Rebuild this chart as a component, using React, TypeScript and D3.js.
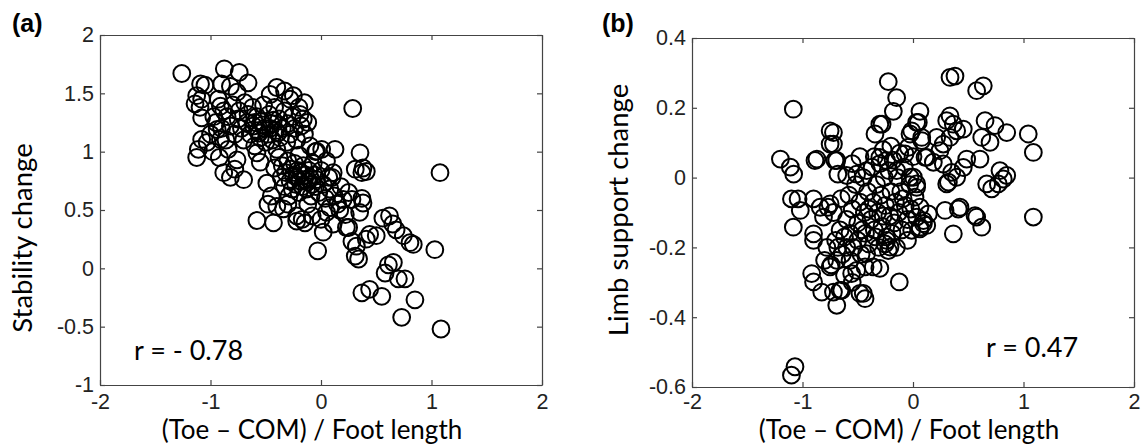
import React, { useEffect, useRef } from "react";
import * as d3 from "d3";

const xTicks = [-2, -1, 0, 1, 2];
const yTicksA = [-1, -0.5, 0, 0.5, 1, 1.5, 2];
const yTicksB = [-0.6, -0.4, -0.2, 0, 0.2, 0.4];

// (Toe - COM)/foot length vs stability change
const stabilityPts: [number, number][] = [
  [-1.26, 1.67], [-0.875, 1.71], [-0.74, 1.68], [-0.66, 1.59], [-1.09, 1.58], [-1.05, 1.57],
  [-1.125, 1.48], [-1.08, 1.45], [-1.14, 1.41], [-1.095, 1.38], [-1.08, 1.29], [-0.9, 1.58],
  [-0.82, 1.56], [-0.91, 1.39], [-0.76, 1.51], [-0.4, 1.55], [-0.33, 1.52], [-0.25, 1.48],
  [-0.46, 1.49], [-0.19, 1.32], [-0.16, 1.28], [-1.08, 1.105], [-1.03, 1.08], [-1.11, 1.02],
  [-1.125, 0.95], [-0.94, 1.19], [-0.9, 1.2], [-0.91, 1.105], [-0.78, 0.85], [-0.7, 0.76],
  [-0.76, 0.93], [-0.58, 0.99], [-0.55, 0.91], [-0.49, 0.73], [-0.4, 0.53], [-0.34, 0.51],
  [-0.58, 0.41], [-0.43, 0.39], [-0.22, 0.405], [-0.17, 0.42],
  // dense upper cluster
  [-0.85, 1.3], [-0.82, 1.22], [-0.8, 1.4], [-0.78, 1.15], [-0.75, 1.28], [-0.74, 1.35],
  [-0.72, 1.2], [-0.7, 1.1], [-0.69, 1.42], [-0.67, 1.25], [-0.66, 1.32], [-0.64, 1.15],
  [-0.62, 1.38], [-0.61, 1.22], [-0.6, 1.05], [-0.58, 1.3], [-0.57, 1.18], [-0.55, 1.12],
  [-0.54, 1.26], [-0.52, 1.4], [-0.51, 1.2], [-0.5, 1.08], [-0.48, 1.15], [-0.47, 1.32],
  [-0.45, 1.24], [-0.44, 1.1], [-0.42, 1.38], [-0.41, 1.18], [-0.4, 1.02], [-0.38, 1.28],
  [-0.37, 1.12], [-0.35, 1.2], [-0.33, 1.35], [-0.31, 1.08], [-0.3, 1.24], [-0.28, 1.15],
  [-0.26, 1.3], [-0.24, 1.2], [-0.22, 1.1], [-0.2, 1.38], [-0.18, 1.22], [-0.15, 1.15],
  [-0.12, 1.25], [-0.97, 1.3], [-0.95, 1.25], [-0.93, 1.45], [-0.88, 1.35], [-0.86, 1.1],
  [-0.84, 1.02], [-0.98, 1.0], [-1.0, 1.15], [-0.92, 0.95], [-0.88, 0.82], [-0.82, 0.78],
  [-0.28, 1.45], [-0.15, 1.42], [-0.1, 1.05], [-0.05, 1.0],
  [-0.6, 1.25], [-0.56, 1.16], [-0.53, 1.23], [-0.46, 1.2], [-0.43, 1.27], [-0.39, 1.16],
  // dense middle cluster
  [-0.38, 0.95], [-0.36, 0.78], [-0.35, 0.88], [-0.33, 0.7], [-0.32, 0.82], [-0.3, 0.92],
  [-0.29, 0.62], [-0.28, 0.75], [-0.27, 0.85], [-0.26, 0.68], [-0.25, 0.8], [-0.24, 0.9],
  [-0.23, 0.72], [-0.22, 0.78], [-0.21, 0.84], [-0.2, 0.65], [-0.19, 0.75], [-0.18, 0.82],
  [-0.17, 0.7], [-0.16, 0.88], [-0.15, 0.76], [-0.14, 0.8], [-0.13, 0.68], [-0.12, 0.74],
  [-0.11, 0.84], [-0.1, 0.78], [-0.09, 0.62], [-0.08, 0.72], [-0.07, 0.9], [-0.06, 0.8],
  [-0.05, 0.7], [-0.04, 0.76], [-0.02, 0.65], [0.0, 0.84], [0.02, 0.72], [0.04, 0.6],
  [0.05, 0.92], [0.07, 0.78], [0.08, 0.68], [-0.42, 0.86], [-0.45, 0.62], [-0.48, 0.55],
  [-0.3, 0.55], [-0.12, 0.55], [-0.2, 0.97],
  // right tail
  [0.287, 1.37], [1.077, 0.82], [0.353, 0.99], [0.31, 0.85], [0.38, 0.86], [0.37, 0.82],
  [0.41, 0.83], [0.127, 1.02], [0.006, 1.02], [-0.04, 1.005], [0.11, 0.82], [0.1, 0.78],
  [0.2, 0.59], [0.28, 0.59], [0.37, 0.6], [0.38, 0.56], [0.35, 0.48], [0.25, 0.35],
  [0.56, 0.43], [0.62, 0.45], [0.65, 0.38], [0.68, 0.33], [0.745, 0.28], [0.805, 0.22],
  [0.835, 0.205], [0.44, 0.29], [0.5, 0.28], [0.41, 0.25], [0.28, 0.23], [0.32, 0.19],
  [0.31, 0.105], [0.34, 0.08], [-0.03, 0.15], [1.03, 0.16], [0.61, 0.03], [0.655, 0.05],
  [0.58, -0.04], [0.7, -0.09], [0.76, -0.09], [0.37, -0.21], [0.44, -0.18], [0.55, -0.24],
  [0.85, -0.27], [0.73, -0.42], [1.086, -0.52], [-0.22, 0.45], [-0.145, 0.39], [0.02, 0.31],
  [0.11, 0.38], [0.23, 0.35], [0.17, 0.5], [0.22, 0.46], [0.12, 0.62], [0.15, 0.55],
  [0.05, 0.48], [0.0, 0.42], [-0.08, 0.45], [0.18, 0.7], [0.25, 0.65], [0.08, 0.52],
];

// (Toe - COM)/foot length vs limb support change
const limbPts: [number, number][] = [
  [-1.083, 0.196], [-0.224, 0.275], [-0.148, 0.229], [-0.178, 0.19], [-0.3, 0.153], [-0.344, 0.125],
  [0.063, 0.19], [0.048, 0.158], [-0.012, 0.134], [0.079, 0.106], [0.124, 0.058], [-0.75, 0.134],
  [-0.75, 0.096], [-0.706, 0.049], [-0.887, 0.049], [-0.87, 0.053], [-1.2, 0.053], [-1.11, 0.03],
  [-1.08, 0.01], [-1.1, -0.061], [-1.04, -0.061], [-1.02, -0.094], [-1.083, -0.142], [-0.9, -0.061],
  [-0.84, -0.085], [-0.81, -0.113], [-0.77, -0.085], [-0.75, -0.075], [-0.9, -0.18], [-0.9, -0.161],
  [-0.917, -0.275], [-0.9, -0.299], [-0.826, -0.328], [-0.72, -0.328], [-0.69, -0.366], [-0.645, -0.323],
  [-0.48, -0.332], [-0.434, -0.347], [-0.124, -0.299], [-1.068, -0.542], [-1.1, -0.566], [-0.8, -0.237],
  [-0.75, -0.256], [-0.69, -0.237], [-0.555, -0.275], [-0.434, -0.256], [-0.6, 0.006], [-0.51, 0.01],
  [-0.42, 0.02], [-0.3, 0.058], [-0.24, 0.049], [-0.148, 0.02], [-0.027, 0.001], [0.033, -0.018],
  [0.094, -0.123], [0.063, -0.142], [-0.012, -0.151], [-0.208, -0.199], [-0.238, -0.18],
  [0.38, 0.291], [0.335, 0.287], [0.636, 0.263], [0.576, 0.249], [0.033, 0.158], [0.079, 0.115],
  [0.335, 0.177], [0.305, 0.163], [0.365, 0.153], [0.335, 0.115], [0.395, 0.134], [0.455, 0.139],
  [0.652, 0.163], [0.742, 0.149], [0.622, 0.115], [0.697, 0.101], [0.848, 0.129], [1.043, 0.125],
  [1.089, 0.072], [0.214, 0.115], [0.274, 0.096], [0.244, 0.077], [0.109, 0.058], [0.184, 0.044],
  [0.274, 0.039], [0.35, 0.015], [0.395, 0.001], [0.32, -0.013], [0.486, 0.053], [0.606, 0.053],
  [0.455, 0.029], [0.787, 0.02], [0.817, -0.004], [0.667, -0.018], [0.712, -0.032], [0.772, -0.018],
  [0.848, 0.006], [0.29, -0.094], [0.425, -0.085], [0.561, -0.109], [0.622, -0.142], [0.365, -0.161],
  [1.089, -0.113], [0.003, 0.001], [0.033, -0.028], [0.018, -0.056], [0.063, -0.085], [0.033, -0.113],
  [0.094, -0.132], [0.139, -0.104], [-0.28, 0.153], [-0.72, 0.129], [-0.72, 0.096], [-0.69, 0.049],
  [-0.027, 0.125], [-0.042, 0.087], [-0.072, 0.068], [0.305, -0.018], [0.41, -0.09], [0.576, -0.113],
  [-0.66, -0.323], [-0.45, -0.332], [-0.36, -0.256], [-0.224, -0.209], [-0.253, -0.19], [-0.42, -0.218],
  [-0.57, -0.237], [-0.51, -0.266], [0.063, -0.147], [0.124, -0.137],
  // dense centre
  [-0.7, -0.18], [-0.68, -0.2], [-0.66, -0.15], [-0.64, -0.22], [-0.62, -0.17], [-0.6, -0.12],
  [-0.6, -0.2], [-0.58, -0.05], [-0.57, -0.16], [-0.55, -0.09], [-0.54, -0.2], [-0.52, -0.02],
  [-0.5, -0.13], [-0.5, -0.18], [-0.48, -0.07], [-0.47, -0.22], [-0.45, 0.0], [-0.44, -0.1],
  [-0.43, -0.16], [-0.41, -0.04], [-0.4, -0.19], [-0.38, -0.12], [-0.37, 0.03], [-0.36, -0.07],
  [-0.35, -0.15], [-0.33, -0.02], [-0.32, -0.1], [-0.31, -0.2], [-0.3, 0.04], [-0.29, -0.05],
  [-0.28, -0.14], [-0.26, 0.0], [-0.25, -0.08], [-0.24, -0.17], [-0.22, 0.02], [-0.21, -0.11],
  [-0.2, -0.04], [-0.18, 0.05], [-0.17, -0.13], [-0.16, -0.07], [-0.14, 0.0], [-0.13, -0.1],
  [-0.11, -0.04], [-0.1, -0.15], [-0.08, 0.03], [-0.07, -0.08], [-0.05, -0.12], [-0.03, -0.02],
  [-0.02, -0.09], [0.0, 0.06], [-0.27, 0.08], [-0.2, 0.09], [-0.12, 0.07], [-0.35, 0.06],
  [-0.65, -0.06], [-0.72, -0.1], [-0.78, -0.2], [-0.74, -0.25], [-0.62, -0.28], [-0.55, -0.3],
  [-0.3, -0.26], [-0.15, -0.2], [-0.05, -0.18], [-0.55, 0.04], [-0.48, 0.06], [-0.68, 0.01],
  [-0.34, -0.17], [-0.27, -0.11], [-0.19, -0.16], [-0.09, -0.06], [-0.4, -0.09], [-0.46, -0.15],
];

const width = 1141;
const height = 445;
const labelFont = "Lato, 'Open Sans', sans-serif";
const tickFont = "'Liberation Sans', Arial, sans-serif";

const panels = [
  {
    tag: "(a)", tagX: 12, pts: stabilityPts, yTicks: yTicksA, yDomain: [-1, 2],
    x0: 100, x1: 542, y0: 385, y1: 35, tickPad: 9,
    yLabel: "Stability change", yLabelX: 32, yLabelY: 238, xLabelX: 312,
    r: "r = - 0.78", rX: 134, rY: 360,
  },
  {
    tag: "(b)", tagX: 602, pts: limbPts, yTicks: yTicksB, yDomain: [-0.6, 0.4],
    x0: 692, x1: 1134, y0: 387, y1: 38, tickPad: 7,
    yLabel: "Limb support change", yLabelX: 628, yLabelY: 210, xLabelX: 909,
    r: "r = 0.47", rX: 986, rY: 357,
  },
];

const App = () => {
  const chart = useRef<SVGSVGElement>(null);
  useEffect(() => {
    const svg = d3.select(chart.current);
    svg.selectAll("*").remove();

    panels.forEach(p => {
      const x = d3.scaleLinear().domain([-2, 2]).range([p.x0, p.x1]);
      const y = d3.scaleLinear().domain(p.yDomain).range([p.y0, p.y1]);
      const g = svg.append("g");
      const fmt = (d: any) => String(d);

      g.append("g")
        .selectAll("circle")
        .data(p.pts)
        .join("circle")
        .attr("cx", d => x(d[0]))
        .attr("cy", d => y(d[1]))
        .attr("r", 8.4)
        .attr("fill", "none")
        .attr("stroke", "#000")
        .attr("stroke-width", 2);

      const bottom = g.append("g").attr("transform", `translate(0,${p.y0})`)
        .call(d3.axisBottom(x).tickValues(xTicks).tickFormat(fmt).tickSize(-5).tickSizeOuter(0).tickPadding(p.tickPad));
      const left = g.append("g").attr("transform", `translate(${p.x0},0)`)
        .call(d3.axisLeft(y).tickValues(p.yTicks).tickFormat(fmt).tickSize(-5).tickSizeOuter(0).tickPadding(6));
      const top = g.append("g").attr("transform", `translate(0,${p.y1})`)
        .call(d3.axisTop(x).tickValues(xTicks).tickFormat(() => "").tickSize(-5).tickSizeOuter(0));
      const right = g.append("g").attr("transform", `translate(${p.x1},0)`)
        .call(d3.axisRight(y).tickValues(p.yTicks).tickFormat(() => "").tickSize(-5).tickSizeOuter(0));

      [bottom, left, top, right].forEach(a => {
        a.selectAll("path, line").attr("stroke", "#444").attr("stroke-width", 1.2);
        a.selectAll("text")
          .attr("font-family", tickFont)
          .attr("font-size", 21.5)
          .attr("fill", "#222");
      });

      g.append("text")
        .attr("x", p.tagX).attr("y", 32)
        .attr("font-family", tickFont).attr("font-weight", "bold").attr("font-size", 25)
        .text(p.tag);

      g.append("text")
        .attr("x", p.xLabelX).attr("y", 439)
        .attr("text-anchor", "middle")
        .attr("font-family", labelFont).attr("font-size", 26)
        .text("(Toe – COM) / Foot length");

      g.append("text")
        .attr("transform", `translate(${p.yLabelX},${p.yLabelY}) rotate(-90)`)
        .attr("text-anchor", "middle")
        .attr("font-family", labelFont).attr("font-size", 27.5)
        .text(p.yLabel);

      g.append("text")
        .attr("x", p.rX).attr("y", p.rY)
        .attr("font-family", labelFont).attr("font-size", 27)
        .text(p.r);
    });
  }, []);

  return (
    <svg
      ref={chart}
      width={width}
      height={height}
      viewBox={`0 0 ${width} ${height}`}
      style={{ position: "absolute", left: 0, top: 0, background: "#fff" }}
    ></svg>
  );
};

export default App;
